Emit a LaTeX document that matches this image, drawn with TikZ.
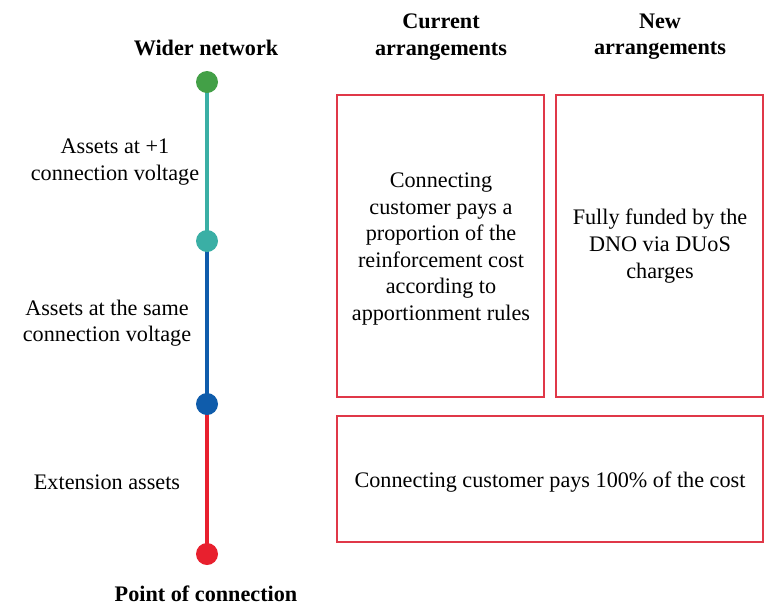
\documentclass[tikz,border=0pt]{standalone}
\usepackage{fontspec}
\setmainfont{Liberation Serif}
\begin{document}
\begin{tikzpicture}[x=1pt,y=-1pt,
  lbl/.style={font=\fontsize{22.2}{26.6}\selectfont, align=center, inner sep=0pt},
  hdr/.style={font=\fontsize{22.2}{26.2}\selectfont\bfseries, align=center, inner sep=0pt},
  box/.style={draw=boxred, line width=2pt},
  dot/.style={circle, inner sep=0pt, minimum size=22pt},
  seg/.style={line width=4pt}]
\definecolor{cgreen}{HTML}{43A047}
\definecolor{cteal}{HTML}{3AAFA5}
\definecolor{cblue}{HTML}{0F5CAB}
\definecolor{cred}{HTML}{E8202E}
\definecolor{boxred}{HTML}{E03848}
\useasboundingbox (0,0) rectangle (765,606);
\coordinate (p1) at (207,82);
\coordinate (p2) at (207,241);
\coordinate (p3) at (207,404);
\coordinate (p4) at (207,554);
\draw[seg, cteal] (p1) -- (p2);
\draw[seg, cblue] (p2) -- (p3);
\draw[seg, cred] (p3) -- (p4);
\node[dot, fill=cgreen] (d1) at (p1) {};
\node[dot, fill=cteal] (d2) at (p2) {};
\node[dot, fill=cblue] (d3) at (p3) {};
\node[dot, fill=cred] (d4) at (p4) {};
\node[hdr] (wn) at (206,48) {Wider network};
\node[hdr] (pc) at (206,594) {Point of connection};
\node[hdr] (ca) at (441,37) {Current\\arrangements};
\node[hdr] (na) at (660,37) {New\\arrangements};
\node[lbl] (l1) at (115,162) {Assets at +1\\connection voltage};
\node[lbl] (l2) at (107,323) {Assets at the same\\connection voltage};
\node[lbl] (l3) at (107,482) {Extension assets};
\draw[box] (337,95) rectangle (544,397);
\draw[box] (556,95) rectangle (763,397);
\draw[box] (337,416) rectangle (763,542);
\node[lbl] (t1) at (441,249) {Connecting\\customer pays a\\proportion of the\\reinforcement cost\\according to\\apportionment rules};
\node[lbl] (t2) at (660,246) {Fully funded by the\\DNO via DUoS\\charges};
\node[lbl] (t3) at (550,482) {Connecting customer pays 100\% of the cost};
\end{tikzpicture}
\end{document}
